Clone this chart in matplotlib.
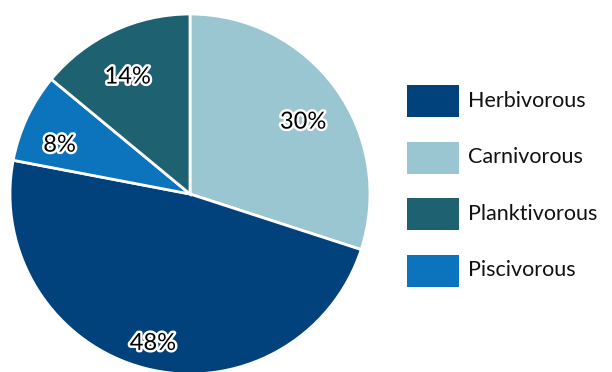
import matplotlib.pyplot as plt
import matplotlib.patheffects as pe
from matplotlib.patches import Rectangle

plt.rcParams['font.family'] = ['Lato', 'DejaVu Sans']

# feeding groups, legend order
groups = ['Herbivorous', 'Carnivorous', 'Planktivorous', 'Piscivorous']
shares = [48, 30, 14, 8]
colors = ['#01417c', '#9ac6d1', '#1e6171', '#0b74bd']

# wedges go clockwise from 12 o'clock in this order
pie_order = ['Carnivorous', 'Herbivorous', 'Piscivorous', 'Planktivorous']
pie_vals = [shares[groups.index(g)] for g in pie_order]
pie_cols = [colors[groups.index(g)] for g in pie_order]

W, H = 612, 372
fig = plt.figure(figsize=(W / 100, H / 100), dpi=100)
cx, cy, r = 190, 178, 180   # centre (px from bottom) and radius
ax = fig.add_axes([(cx - r) / W, (cy - r) / H, 2 * r / W, 2 * r / H])

wedges, texts, autotexts = ax.pie(
    pie_vals, colors=pie_cols, startangle=90, counterclock=False,
    autopct='%d%%', pctdistance=0.79,
    wedgeprops=dict(edgecolor='white', linewidth=2),
    textprops=dict(fontsize=17, color='black'))
for t in autotexts:
    x, y = t.get_position()
    t.set_position((x - 0.01, y - 0.065))
    t.set_path_effects([pe.withStroke(linewidth=3.5, foreground='white')])
ax.set_xlim(-1, 1)
ax.set_ylim(-1, 1)
ax.set_aspect('equal')
ax.axis('off')

# legend boxes on the right
for i, (g, c) in enumerate(zip(groups, colors)):
    yc = 271 - i * 56.5
    fig.add_artist(Rectangle((407 / W, (yc - 16) / H), 52 / W, 32 / H,
                             transform=fig.transFigure, facecolor=c,
                             edgecolor='none'))
    fig.text(468 / W, yc / H, g, fontsize=15.5, va='center', ha='left',
             color='#111111')

fig.savefig('out.png', dpi=100)
